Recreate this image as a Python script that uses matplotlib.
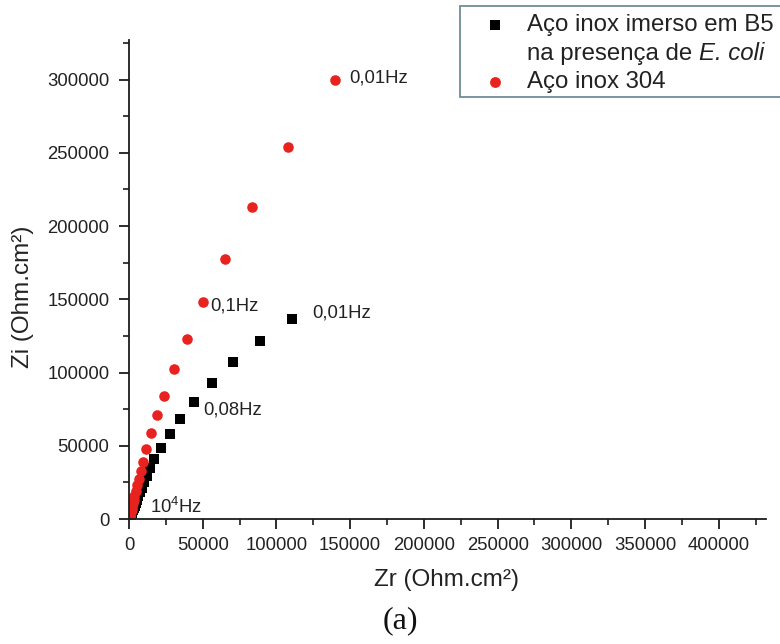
import matplotlib
matplotlib.use("Agg")
import matplotlib.pyplot as plt
from matplotlib.ticker import MultipleLocator, FuncFormatter
from matplotlib.patches import Rectangle
from matplotlib.lines import Line2D

plt.rcParams["font.family"] = ["Liberation Sans", "DejaVu Sans"]
plt.rcParams["mathtext.fontset"] = "custom"
plt.rcParams["mathtext.rm"] = "Liberation Sans"
plt.rcParams["mathtext.it"] = "Liberation Sans:italic"

# Nyquist data, Zr / Zi in Ohm.cm²
zr_ecoli = [110400, 88900, 70350, 56100, 44300, 34600, 27800, 21500, 17000, 14250,
            12000, 10200, 8700, 7400, 6300, 5300, 4500, 3800, 3200, 2700,
            2250, 1900, 1600, 1350, 1150, 980, 850, 750, 680]
zi_ecoli = [136400, 121600, 107000, 93100, 80100, 68300, 58000, 48700, 40800, 34600,
            29500, 25200, 21500, 18300, 15500, 13000, 10900, 9100, 7500, 6100,
            4900, 3900, 3000, 2300, 1700, 1200, 800, 480, 250]

zr_304 = [140000, 107900, 83400, 64900, 50000, 39550, 30530, 23750, 19200, 14700,
          11500, 9300, 7800, 6500, 5400, 4500, 3700, 3100, 2550, 2100,
          1750, 1450, 1200, 1000, 820, 680, 560, 460, 380, 320, 280]
zi_304 = [299400, 254100, 213100, 177600, 148200, 122750, 102250, 84000, 71000, 58500,
          47600, 39100, 33000, 27500, 23000, 19200, 16000, 13200, 10800, 8800,
          7100, 5700, 4500, 3500, 2700, 2000, 1450, 1000, 650, 380, 180]

label_ecoli_1 = "Aço inox imerso em B5"
label_ecoli_2 = "na presença de "
label_ecoli_species = "E. coli"
label_304 = "Aço inox 304"

# frequency labels: (text, series point index)
freq_304 = [("0,01Hz", 0), ("0,1Hz", 4)]
freq_ecoli = [("0,01Hz", 0), ("0,08Hz", 4)]
freq_high = ("10$^{4}$Hz", 14250, 8400)

RED = "#e8231f"
AXC = "#1c1c1c"
TXT = "#222222"

W, H = 780, 644
fig = plt.figure(figsize=(W / 100, H / 100), dpi=100)
x0, x1, y0, y1 = 129, 766, 40, 519
ax = fig.add_axes([x0 / W, 1 - y1 / H, (x1 - x0) / W, (y1 - y0) / H])

ax.plot(zr_ecoli, zi_ecoli, "s", color="black", ms=7.0, mew=0)
ax.plot(zr_304, zi_304, "o", color=RED, ms=7.6, mew=0)

ax.set_xlim(0, 432000)
ax.set_ylim(0, 327000)

for side in ("top", "right"):
    ax.spines[side].set_visible(False)
for side in ("left", "bottom"):
    ax.spines[side].set_color(AXC)
    ax.spines[side].set_linewidth(1.3)

fmt = FuncFormatter(lambda v, p: f"{int(round(v))}")
for axis in (ax.xaxis, ax.yaxis):
    axis.set_major_locator(MultipleLocator(50000))
    axis.set_minor_locator(MultipleLocator(25000))
    axis.set_major_formatter(fmt)
ax.tick_params(which="major", direction="out", length=7, width=1.3, color=AXC,
               labelsize=13.3, labelcolor=TXT)
ax.tick_params(axis="x", which="major", pad=6)
ax.tick_params(axis="y", which="major", pad=7)
ax.tick_params(which="minor", direction="out", length=4, width=1.2, color=AXC)

# frequency annotations
offsets_304 = [(14, 2), (8, -4)]
offsets_ecoli = [(20, 6), (9, -8)]
for (txt, i), off in zip(freq_304, offsets_304):
    ax.annotate(txt, (zr_304[i], zi_304[i]), xytext=off, textcoords="offset pixels",
                fontsize=13.3, va="center", ha="left", color=TXT)
for (txt, i), off in zip(freq_ecoli, offsets_ecoli):
    ax.annotate(txt, (zr_ecoli[i], zi_ecoli[i]), xytext=off, textcoords="offset pixels",
                fontsize=13.3, va="center", ha="left", color=TXT)
ax.text(freq_high[1], freq_high[2], freq_high[0], fontsize=13.3, va="center",
        ha="left", color=TXT)

# axis titles and panel tag
fig.text(447 / W, 1 - 580 / H, "Zr (Ohm.cm²)", fontsize=17.5, ha="center",
         va="center", color=TXT)
fig.text(23 / W, 1 - 297 / H, "Zi (Ohm.cm²)", fontsize=17.5, ha="center",
         va="center", rotation=90, color=TXT)
fig.text(400 / W, 1 - 621 / H, "(a)", fontsize=23, ha="center", va="center",
         family="Liberation Serif", color="#111111")

# legend box
fig.patches.append(Rectangle((460 / W, 1 - 97 / H), 340 / W, 91 / H,
                             transform=fig.transFigure, facecolor="white",
                             edgecolor="#6f8d99", lw=1.3))
fig.lines.append(Line2D([495 / W], [1 - 25 / H], marker="s", color="black",
                        ms=7.2, mew=0, transform=fig.transFigure))
fig.lines.append(Line2D([495 / W], [1 - 82 / H], marker="o", color=RED,
                        ms=7.8, mew=0, transform=fig.transFigure))
LEG_FS = 17.3
fig.text(527 / W, 1 - 25 / H, label_ecoli_1, fontsize=LEG_FS, ha="left",
         va="center", color=TXT)
t2 = fig.text(527 / W, 1 - 54 / H, label_ecoli_2, fontsize=LEG_FS, ha="left",
              va="center", color=TXT)
fig.text(527 / W, 1 - 82 / H, label_304, fontsize=LEG_FS, ha="left",
         va="center", color=TXT)

# italic species name right after the regular part of the second line
fig.canvas.draw()
ext = t2.get_window_extent(renderer=fig.canvas.get_renderer())
fig.text(ext.x1 / W, 1 - 54 / H, label_ecoli_species, fontsize=LEG_FS,
         style="italic", ha="left", va="center", color=TXT)

fig.savefig("out.png", dpi=100)
